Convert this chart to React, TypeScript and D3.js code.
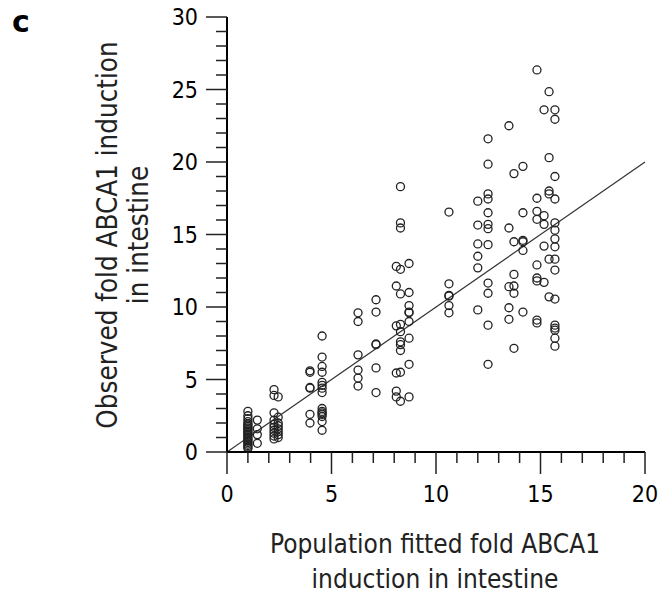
import React from "react";
import * as d3 from "d3";

// Fitted (x) value of each cluster and the observed (y) values in it
const clusterFitted: number[] = [
  1.0, 1.45, 2.25, 2.45, 3.97, 4.55, 6.27, 7.13, 8.1, 8.3, 8.71, 10.62, 12.0, 12.49,
  13.49, 13.73, 14.16, 14.83, 15.17, 15.41, 15.69,
];
const clusterObserved: number[][] = [
  [0.25, 0.35, 0.45, 0.55, 0.65, 0.75, 0.85, 0.95, 1.05, 1.15, 1.25, 1.35, 1.45, 1.55, 1.65, 1.75, 1.85, 1.95, 2.1, 2.3, 2.5, 2.8],
  [2.2, 1.6, 1.2, 0.6],
  [4.3, 3.9, 2.7, 2.2, 1.9, 1.7, 1.5, 1.3, 1.1, 0.9],
  [3.8, 2.4, 2.0, 1.8, 1.6, 1.4, 1.2, 1.0],
  [5.6, 5.5, 4.45, 4.4, 2.6, 2.0],
  [8.0, 6.55, 5.9, 5.5, 4.8, 4.6, 4.4, 4.1, 3.0, 2.8, 2.7, 2.6, 2.45, 2.1, 1.5],
  [9.6, 9.0, 6.7, 5.65, 5.1, 4.55],
  [10.5, 9.65, 7.45, 7.4, 5.8, 4.1],
  [12.8, 11.45, 8.7, 5.45, 4.2, 3.8],
  [18.3, 15.8, 15.45, 12.6, 10.9, 8.8, 8.3, 7.6, 7.4, 7.0, 5.5, 3.5],
  [13.0, 11.0, 10.1, 9.65, 9.6, 9.0, 7.85, 6.05, 3.8],
  [16.55, 11.6, 10.8, 10.75, 10.1, 9.6],
  [17.3, 15.65, 14.35, 13.5, 12.7, 9.8],
  [21.6, 19.85, 17.8, 17.45, 16.5, 15.7, 15.4, 14.3, 11.65, 10.95, 8.75, 6.05],
  [22.5, 15.45, 11.4, 9.95, 9.15],
  [19.2, 14.5, 12.25, 11.45, 10.95, 7.15],
  [19.7, 16.5, 14.6, 14.5, 13.9, 9.65],
  [26.35, 17.5, 16.6, 16.05, 12.9, 12.0, 11.8, 9.1, 8.9],
  [23.6, 16.3, 15.7, 14.2, 11.7],
  [24.85, 20.3, 18.0, 17.8, 13.3, 10.7],
  [23.6, 22.95, 19.0, 17.45, 15.8, 15.3, 14.7, 14.15, 13.3, 12.55, 10.55, 8.75, 8.55, 8.4, 7.85, 7.3],
];
const xTicks: number[] = [0, 5, 10, 15, 20];
const yTicks: number[] = [0, 5, 10, 15, 20, 25, 30];
const identityLine: [number, number][] = [[0, 0], [20, 20]];

const FONT = "'DejaVu Sans Condensed', 'DejaVu Sans', sans-serif";

export default function App() {
  const x = d3.scaleLinear().domain([0, 20]).range([227, 645]);
  const y = d3.scaleLinear().domain([0, 30]).range([452, 17]);
  const points = clusterFitted.flatMap((fx, i) => clusterObserved[i].map((v) => ({ fx, v })));
  const minorX = d3.range(0, 21, 1).filter((v) => v % 5 !== 0);
  const minorY = d3.range(0, 31, 1).filter((v) => v % 5 !== 0);
  const line = d3.line<[number, number]>().x((d) => x(d[0])).y((d) => y(d[1]));

  return (
    <svg width={660} height={594} style={{ position: "absolute", left: 0, top: 0, background: "#fff" }} fontFamily={FONT}>
      <text x={12} y={32} fontSize={30} fontWeight="bold" fontFamily="'DejaVu Sans', sans-serif" fill="#000">c</text>

      {/* identity line */}
      <path d={line(identityLine) || ""} stroke="#333" strokeWidth={1.2} fill="none" />

      {/* points */}
      {points.map((p, i) => (
        <circle key={i} cx={x(p.fx)} cy={y(p.v)} r={4} fill="none" stroke="#222" strokeWidth={1.3} />
      ))}

      {/* y axis */}
      <line x1={x(0)} x2={x(0)} y1={y(30)} y2={y(0)} stroke="#000" strokeWidth={2} />
      {yTicks.map((t) => (
        <g key={"yt" + t}>
          <line x1={x(0) - 21} x2={x(0)} y1={y(t)} y2={y(t)} stroke="#222" strokeWidth={1.5} />
          <text x={198} y={y(t)} dy="0.36em" textAnchor="end" fontSize={23} fill="#000">{t}</text>
        </g>
      ))}
      {minorY.map((t) => (
        <line key={"ym" + t} x1={x(0) - 11} x2={x(0)} y1={y(t)} y2={y(t)} stroke="#222" strokeWidth={1.5} />
      ))}

      {/* x axis */}
      <line x1={x(0)} x2={x(20)} y1={y(0)} y2={y(0)} stroke="#000" strokeWidth={2} />
      {xTicks.map((t) => (
        <g key={"xt" + t}>
          <line x1={x(t)} x2={x(t)} y1={y(0)} y2={y(0) + 22} stroke="#222" strokeWidth={1.5} />
          <text x={x(t)} y={502} textAnchor="middle" fontSize={23} fill="#000">{t}</text>
        </g>
      ))}
      {minorX.map((t) => (
        <line key={"xm" + t} x1={x(t)} x2={x(t)} y1={y(0)} y2={y(0) + 11} stroke="#222" strokeWidth={1.5} />
      ))}

      {/* axis titles */}
      <text textAnchor="middle" fontSize={27.5} fill="#222" transform="translate(117,235) rotate(-90)">Observed fold ABCA1 induction</text>
      <text textAnchor="middle" fontSize={27.5} fill="#222" transform="translate(148,235) rotate(-90)">in intestine</text>
      <text x={435} y={553} textAnchor="middle" fontSize={26} fill="#222">Population fitted fold ABCA1</text>
      <text x={435} y={588} textAnchor="middle" fontSize={26} fill="#222">induction in intestine</text>
    </svg>
  );
}
